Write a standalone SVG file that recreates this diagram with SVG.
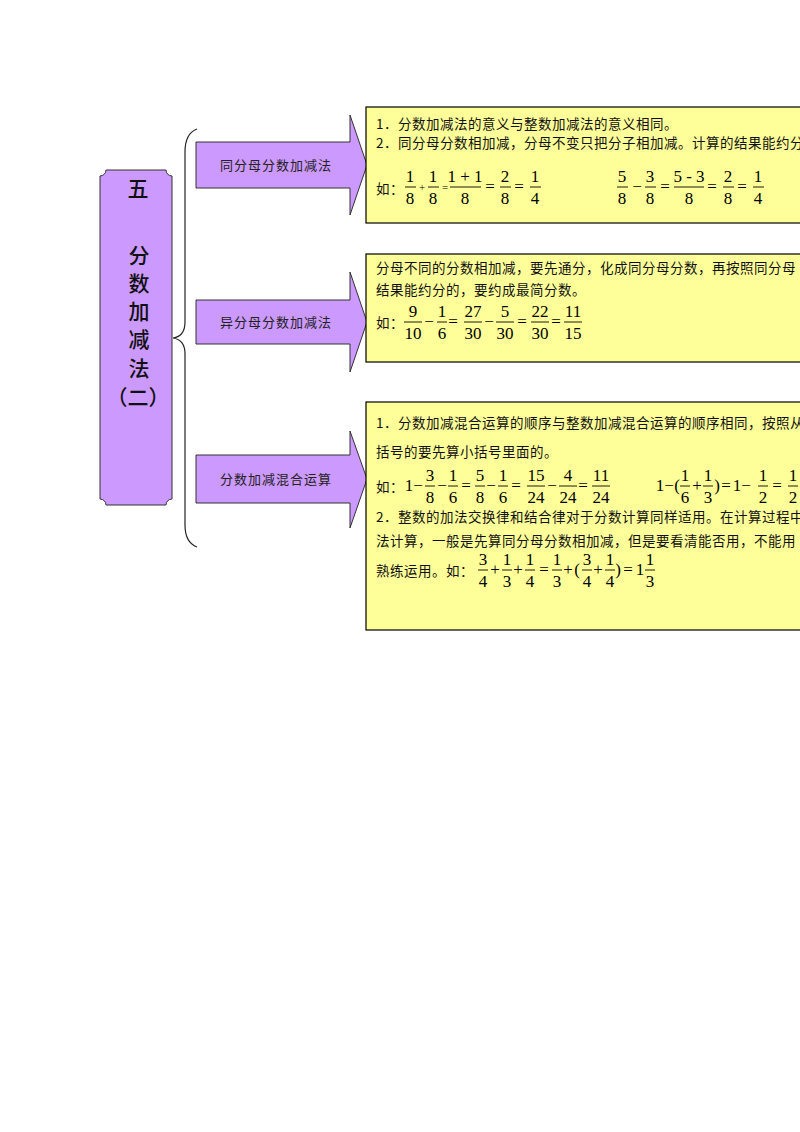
<svg xmlns="http://www.w3.org/2000/svg" width="800" height="1132" viewBox="0 0 800 1132">
<style>
.purple{fill:#cc99ff;stroke:#333;stroke-width:1}
.yellow{fill:#ffff99;stroke:#000;stroke-width:1.2}
.cn{font-family:"Noto Sans CJK SC","Noto Sans",sans-serif;font-size:13.5px;letter-spacing:0.5px;fill:#111}
.lbl{font-family:"Noto Sans CJK SC",sans-serif;font-size:13px;letter-spacing:1px;fill:#222;text-anchor:middle}
.ttl{font-family:"Noto Sans CJK SC",sans-serif;font-size:21px;font-weight:500;fill:#111;text-anchor:middle}
.m{font-family:"Liberation Serif","Times New Roman",serif;font-size:17px;fill:#000;text-anchor:middle}
.s{font-family:"Liberation Serif",serif;font-size:11px;fill:#000;text-anchor:middle}
.bar{stroke:#000;stroke-width:0.9}
.brace{fill:none;stroke:#222;stroke-width:1.2}
</style>
<rect x="0" y="0" width="800" height="1132" fill="#fff"/>

<g id="connectors">
<path class="brace" d="M197,129 C189,132 185,140 185,152 V322 C185,332 180,337 173,338 C180,339 185,344 185,354 V525 C185,537 189,544 197,547"/>
</g>

<g id="title">
<path class="purple" d="M106,170 H166 A6,6 0 0 0 172,176 V499 A6,6 0 0 0 166,505 H106 A6,6 0 0 0 100,499 V176 A6,6 0 0 0 106,170 Z"/>
<text class="ttl" x="138" y="196">五</text>
<text class="ttl" x="139" y="263">分</text>
<text class="ttl" x="139" y="291">数</text>
<text class="ttl" x="139" y="319">加</text>
<text class="ttl" x="139" y="347">减</text>
<text class="ttl" x="139" y="376">法</text>
<text class="ttl" x="138" y="405">（二）</text>
</g>

<g id="arrow1">
<path class="purple" d="M196,142 H350 V115 L367,165 L350,215 V188 H196 Z"/>
<text class="lbl" x="276" y="170">同分母分数加减法</text>
</g>
<g id="arrow2">
<path class="purple" d="M196,300 H350 V272 L367,322 L350,372 V344 H196 Z"/>
<text class="lbl" x="276" y="327">异分母分数加减法</text>
</g>
<g id="arrow3">
<path class="purple" d="M196,455 H350 V431 L367,479 L350,528 V503 H196 Z"/>
<text class="lbl" x="276" y="484">分数加减混合运算</text>
</g>

<g id="box1">
<rect class="yellow" x="366" y="107" width="450" height="116"/>
<text class="cn" x="376" y="129">1．分数加减法的意义与整数加减法的意义相同。</text>
<text class="cn" x="376" y="148">2．同分母分数相加减，分母不变只把分子相加减。计算的结果能约分</text>
<text class="cn" x="376" y="194">如：</text>
<g>
<text class="m" x="410" y="182">1</text><line class="bar" x1="405" y1="187" x2="416" y2="187"/><text class="m" x="410" y="204">8</text>
<text class="s" x="422" y="191">+</text>
<text class="m" x="433" y="182">1</text><line class="bar" x1="428" y1="187" x2="439" y2="187"/><text class="m" x="433" y="204">8</text>
<text class="s" x="445" y="191">=</text>
<text class="m" x="465" y="182">1 + 1</text><line class="bar" x1="450" y1="187" x2="481" y2="187"/><text class="m" x="465" y="204">8</text>
<text class="m" x="490" y="192">=</text>
<text class="m" x="505" y="182">2</text><line class="bar" x1="500" y1="187" x2="511" y2="187"/><text class="m" x="505" y="204">8</text>
<text class="m" x="519" y="192">=</text>
<text class="m" x="535" y="182">1</text><line class="bar" x1="530" y1="187" x2="541" y2="187"/><text class="m" x="535" y="204">4</text>
</g>
<g>
<text class="m" x="622" y="182">5</text><line class="bar" x1="617" y1="187" x2="628" y2="187"/><text class="m" x="622" y="204">8</text>
<text class="m" x="637" y="192">−</text>
<text class="m" x="650" y="182">3</text><line class="bar" x1="645" y1="187" x2="656" y2="187"/><text class="m" x="650" y="204">8</text>
<text class="m" x="665" y="192">=</text>
<text class="m" x="689" y="182">5 - 3</text><line class="bar" x1="674" y1="187" x2="704" y2="187"/><text class="m" x="689" y="204">8</text>
<text class="m" x="712" y="192">=</text>
<text class="m" x="728" y="182">2</text><line class="bar" x1="723" y1="187" x2="734" y2="187"/><text class="m" x="728" y="204">8</text>
<text class="m" x="742" y="192">=</text>
<text class="m" x="758" y="182">1</text><line class="bar" x1="753" y1="187" x2="764" y2="187"/><text class="m" x="758" y="204">4</text>
</g>
</g>

<g id="box2">
<rect class="yellow" x="366" y="254" width="450" height="108"/>
<text class="cn" x="376" y="273">分母不同的分数相加减，要先通分，化成同分母分数，再按照同分母</text>
<text class="cn" x="376" y="295">结果能约分的，要约成最简分数。</text>
<text class="cn" x="376" y="328">如：</text>
<text class="m" x="413" y="317">9</text><line class="bar" x1="404" y1="322" x2="422" y2="322"/><text class="m" x="413" y="339">10</text>
<text class="m" x="429" y="327">−</text>
<text class="m" x="442" y="317">1</text><line class="bar" x1="437" y1="322" x2="447" y2="322"/><text class="m" x="442" y="339">6</text>
<text class="m" x="453" y="327">=</text>
<text class="m" x="473" y="317">27</text><line class="bar" x1="464" y1="322" x2="482" y2="322"/><text class="m" x="473" y="339">30</text>
<text class="m" x="489" y="327">−</text>
<text class="m" x="505" y="317">5</text><line class="bar" x1="496" y1="322" x2="514" y2="322"/><text class="m" x="505" y="339">30</text>
<text class="m" x="522" y="327">=</text>
<text class="m" x="540" y="317">22</text><line class="bar" x1="531" y1="322" x2="549" y2="322"/><text class="m" x="540" y="339">30</text>
<text class="m" x="556" y="327">=</text>
<text class="m" x="573" y="317">11</text><line class="bar" x1="564" y1="322" x2="582" y2="322"/><text class="m" x="573" y="339">15</text>
</g>

<g id="box3">
<rect class="yellow" x="366" y="402" width="450" height="228"/>
<text class="cn" x="376" y="428">1．分数加减混合运算的顺序与整数加减混合运算的顺序相同，按照从</text>
<text class="cn" x="376" y="457">括号的要先算小括号里面的。</text>
<text class="cn" x="376" y="492">如：</text>
<g>
<text class="m" x="409" y="491">1</text>
<text class="m" x="418" y="491">−</text>
<text class="m" x="430" y="481">3</text><line class="bar" x1="425" y1="486" x2="435" y2="486"/><text class="m" x="430" y="503">8</text>
<text class="m" x="442" y="491">−</text>
<text class="m" x="453" y="481">1</text><line class="bar" x1="448" y1="486" x2="458" y2="486"/><text class="m" x="453" y="503">6</text>
<text class="m" x="466" y="491">=</text>
<text class="m" x="480" y="481">5</text><line class="bar" x1="475" y1="486" x2="485" y2="486"/><text class="m" x="480" y="503">8</text>
<text class="m" x="491" y="491">−</text>
<text class="m" x="503" y="481">1</text><line class="bar" x1="498" y1="486" x2="508" y2="486"/><text class="m" x="503" y="503">6</text>
<text class="m" x="516" y="491">=</text>
<text class="m" x="536" y="481">15</text><line class="bar" x1="527" y1="486" x2="545" y2="486"/><text class="m" x="536" y="503">24</text>
<text class="m" x="552" y="491">−</text>
<text class="m" x="568" y="481">4</text><line class="bar" x1="559" y1="486" x2="577" y2="486"/><text class="m" x="568" y="503">24</text>
<text class="m" x="583" y="491">=</text>
<text class="m" x="601" y="481">11</text><line class="bar" x1="592" y1="486" x2="610" y2="486"/><text class="m" x="601" y="503">24</text>
</g>
<g>
<text class="m" x="660" y="491">1</text>
<text class="m" x="669" y="491">−</text>
<text class="m" x="677" y="491">(</text>
<text class="m" x="685" y="481">1</text><line class="bar" x1="680" y1="486" x2="690" y2="486"/><text class="m" x="685" y="503">6</text>
<text class="m" x="697" y="491">+</text>
<text class="m" x="708" y="481">1</text><line class="bar" x1="703" y1="486" x2="713" y2="486"/><text class="m" x="708" y="503">3</text>
<text class="m" x="717" y="491">)</text>
<text class="m" x="726" y="491">=</text>
<text class="m" x="737" y="491">1</text>
<text class="m" x="746" y="491">−</text>
<text class="m" x="763" y="481">1</text><line class="bar" x1="758" y1="486" x2="768" y2="486"/><text class="m" x="763" y="503">2</text>
<text class="m" x="777" y="491">=</text>
<text class="m" x="793" y="481">1</text><line class="bar" x1="788" y1="486" x2="798" y2="486"/><text class="m" x="793" y="503">2</text>
</g>
<text class="cn" x="376" y="522">2．整数的加法交换律和结合律对于分数计算同样适用。在计算过程中</text>
<text class="cn" x="376" y="546">法计算，一般是先算同分母分数相加减，但是要看清能否用，不能用</text>
<text class="cn" x="376" y="576">熟练运用。如：</text>
<g>
<text class="m" x="483" y="565">3</text><line class="bar" x1="478" y1="570" x2="488" y2="570"/><text class="m" x="483" y="587">4</text>
<text class="m" x="495" y="575">+</text>
<text class="m" x="507" y="565">1</text><line class="bar" x1="502" y1="570" x2="512" y2="570"/><text class="m" x="507" y="587">3</text>
<text class="m" x="518" y="575">+</text>
<text class="m" x="530" y="565">1</text><line class="bar" x1="525" y1="570" x2="535" y2="570"/><text class="m" x="530" y="587">4</text>
<text class="m" x="544" y="575">=</text>
<text class="m" x="557" y="565">1</text><line class="bar" x1="552" y1="570" x2="562" y2="570"/><text class="m" x="557" y="587">3</text>
<text class="m" x="568" y="575">+</text>
<text class="m" x="577" y="575">(</text>
<text class="m" x="587" y="565">3</text><line class="bar" x1="582" y1="570" x2="592" y2="570"/><text class="m" x="587" y="587">4</text>
<text class="m" x="598" y="575">+</text>
<text class="m" x="610" y="565">1</text><line class="bar" x1="605" y1="570" x2="615" y2="570"/><text class="m" x="610" y="587">4</text>
<text class="m" x="618" y="575">)</text>
<text class="m" x="628" y="575">=</text>
<text class="m" x="640" y="575">1</text>
<text class="m" x="650" y="565">1</text><line class="bar" x1="645" y1="570" x2="655" y2="570"/><text class="m" x="650" y="587">3</text>
</g>
</g>
</svg>
